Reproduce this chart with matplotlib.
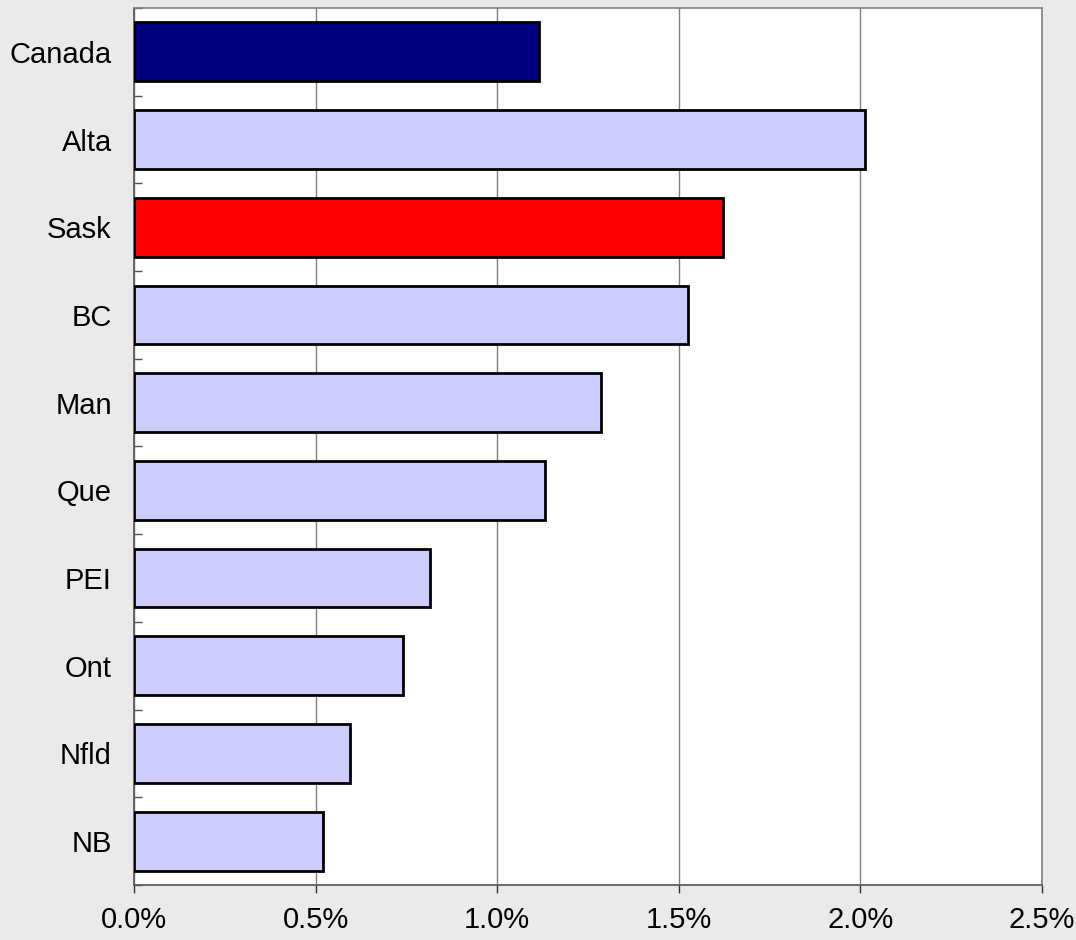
import matplotlib.pyplot as plt
import numpy as np
from matplotlib.ticker import FuncFormatter, FixedLocator

# 各省数值（%），自上而下
regions = ['Canada', 'Alta', 'Sask', 'BC', 'Man', 'Que', 'PEI', 'Ont', 'Nfld', 'NB']
values = [1.115, 2.013, 1.622, 1.525, 1.286, 1.132, 0.815, 0.741, 0.595, 0.520]
colors = ['#000080', '#CCCCFF', '#FF0000', '#CCCCFF', '#CCCCFF',
          '#CCCCFF', '#CCCCFF', '#CCCCFF', '#CCCCFF', '#CCCCFF']

plt.rcParams['font.family'] = ['Liberation Sans', 'DejaVu Sans']

fig = plt.figure(figsize=(10.76, 9.40), dpi=100, facecolor='#EAEAEA')
ax = fig.add_axes([134 / 1076, 1 - 885 / 940, (1042 - 134) / 1076, (885 - 8) / 940])
ax.set_facecolor('white')

y = np.arange(len(regions))
ax.barh(y, values, height=0.67, color=colors, edgecolor='black', linewidth=2.0, zorder=3)

ax.set_xlim(0, 2.5)
ax.set_ylim(len(regions) - 0.5, -0.5)
ax.set_xticks([0, 0.5, 1.0, 1.5, 2.0, 2.5])
ax.xaxis.set_major_formatter(FuncFormatter(lambda x, pos: '%.1f%%' % x))
ax.grid(True, axis='x', color='#808080', linewidth=1.0, zorder=1)

ax.set_yticks(y)
ax.set_yticklabels(regions)
ax.yaxis.set_minor_locator(FixedLocator(np.arange(-0.5, len(regions), 1.0)))
ax.tick_params(axis='y', which='major', length=0, pad=16, labelsize=21)
ax.tick_params(axis='y', which='minor', length=6, direction='in', color='#555555', width=1)
ax.tick_params(axis='x', which='major', length=6, direction='out', color='#333333', width=1,
               pad=9, labelsize=21)

for s in ax.spines.values():
    s.set_color('#808080')
    s.set_linewidth(1.2)
ax.spines['left'].set_color('#555555')
ax.spines['bottom'].set_color('#555555')

plt.savefig('out.png', dpi=100, facecolor=fig.get_facecolor())
plt.close()
